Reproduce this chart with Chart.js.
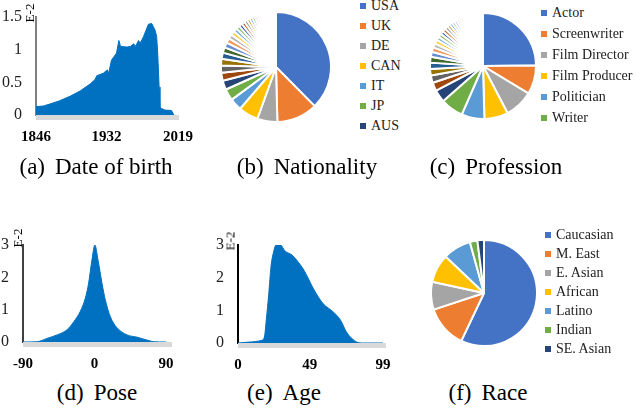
<!DOCTYPE html>
<html>
<head>
<meta charset="utf-8">
<script src="https://cdn.jsdelivr.net/npm/chart.js@4"></script>
<style>
  body { margin: 0; background: #fff; }
  #fig { position: relative; width: 636px; height: 410px; overflow: hidden; font-family: "Liberation Serif", "DejaVu Serif", serif; color: #000; }
  canvas { position: absolute; }
  .cap { position: absolute; font-family: "Liberation Serif", serif; font-size: 23px; white-space: nowrap; line-height: 1; transform: translateX(-50%); }
  .cap b { font-weight: normal; margin-right: 10px; }
  .exp { position: absolute; font-family: "Liberation Serif", serif; font-size: 13px; white-space: nowrap; line-height: 1; transform: translate(-50%, -50%) rotate(-90deg); }
  .leg { position: absolute; font-family: "Liberation Serif", serif; font-size: 14px; white-space: nowrap; height: 16px; display: flex; align-items: center; color: #222; }
  .leg i { display: inline-block; width: 6px; height: 6px; margin-right: 5px; }
</style>
</head>
<body>
<div id="fig">
  <canvas id="birth" width="200" height="150" style="left:0;top:0"></canvas>
  <canvas id="nation" width="112" height="112" style="left:220px;top:11px"></canvas>
  <canvas id="prof" width="108" height="108" style="left:429px;top:12px"></canvas>
  <canvas id="pose" width="200" height="150" style="left:0;top:225px"></canvas>
  <canvas id="age" width="200" height="150" style="left:200px;top:225px"></canvas>
  <canvas id="race" width="108" height="108" style="left:430px;top:239px"></canvas>

  <div class="exp" style="left:29px;top:13px">E-2</div>
  <div class="exp" style="left:17px;top:238px">E-2</div>
  <div class="exp" style="left:230px;top:241px">E-2</div>

  <div class="cap" style="left:96px;top:155px"><b>(a)</b>Date of birth</div>
  <div class="cap" style="left:307px;top:155px"><b>(b)</b>Nationality</div>
  <div class="cap" style="left:496px;top:155px"><b>(c)</b>Profession</div>
  <div class="cap" style="left:97px;top:381px"><b>(d)</b>Pose</div>
  <div class="cap" style="left:284px;top:381px"><b>(e)</b>Age</div>
  <div class="cap" style="left:488px;top:381px"><b>(f)</b>Race</div>
</div>
<script>
// (a) date of birth, share in units of 1e-2
const birthYear = [1846, 1855, 1863, 1875, 1888, 1900, 1912, 1918, 1920, 1928, 1933, 1934.5, 1938, 1944, 1947, 1949, 1957, 1961, 1965, 1967, 1971, 1973, 1977, 1983, 1987, 1991, 1993, 1994.3, 1996, 1997, 1999, 2003, 2011, 2014];
const birthShare = [0.127, 0.138, 0.168, 0.219, 0.29, 0.37, 0.475, 0.545, 0.6, 0.64, 0.69, 0.64, 0.84, 0.945, 1.14, 1.05, 1.04, 1.05, 1.09, 1.05, 1.14, 1.10, 1.2, 1.39, 1.40, 1.30, 1.20, 0.94, 0.43, 0.12, 0.1, 0.075, 0.07, 0];
const birthTicks = [1846, 1932, 2019];

// (d) head pose (degrees)
const poseAngle = [-90, -72, -60, -47, -35, -26, -18, -11.6, -7.4, -3.2, 0.5, 4.4, 9.4, 13.6, 20, 28, 41, 53.5, 66, 74, 90];
const poseShare = [0, 0.01, 0.11, 0.22, 0.37, 0.63, 0.94, 1.35, 1.82, 2.54, 3.0, 2.54, 1.82, 1.3, 0.78, 0.45, 0.22, 0.15, 0.06, 0.01, 0];
const poseTicks = [-90, 0, 90];

// (e) age
const ageYears = [0, 8, 16, 18, 19.3, 21, 22.5, 24.3, 26, 29, 32, 37, 40, 45, 52, 58, 65, 70, 74, 78, 81, 85, 99];
const ageShare = [0, 0.03, 0.08, 0.18, 0.70, 1.51, 2.33, 2.79, 3.0, 3.0, 2.82, 2.69, 2.54, 2.23, 1.62, 1.21, 0.95, 0.70, 0.34, 0.13, 0.03, 0, 0];
const ageTicks = [0, 49, 99];

// (b) nationality, percent
const nationLabels = ['USA', 'UK', 'DE', 'CAN', 'IT', 'JP', 'AUS'];
const nationShare = [37.6, 12, 5.9, 5.8, 3.6, 3.4, 2.7,
  2.3, 2.1, 2.0, 1.8, 1.6, 1.5, 1.4, 1.3, 1.2, 1.1, 1.05, 1.0, 0.95, 0.9, 0.85,
  0.8, 0.75, 0.7, 0.7, 0.65, 0.6, 0.55, 0.5, 0.5, 0.45, 0.4, 0.4, 0.35, 0.3, 0.3];

// (c) profession, percent
const profLabels = ['Actor', 'Screenwriter', 'Film Director', 'Film Producer', 'Politician', 'Writer'];
const profShare = [24.8, 8.8, 8.7, 7.2, 7.0, 6.9,
  3.8, 2.6, 2.2, 2.0, 1.9, 1.8, 1.5, 1.4, 1.25, 1.2, 1.1, 1.1,
  1.0, 1.0, 0.95, 0.9, 0.85, 0.8, 0.8, 0.75, 0.7, 0.7, 0.65, 0.6, 0.6, 0.55,
  0.5, 0.5, 0.45, 0.4, 0.4, 0.35, 0.3, 0.3, 0.3, 0.25];

// (f) race, percent
const raceLabels = ['Caucasian', 'M. East', 'E. Asian', 'African', 'Latino', 'Indian', 'SE. Asian'];
const raceShare = [57.1, 12.9, 8.5, 8.7, 8.6, 2.3, 2.0];

const officePalette = ['#4472C4', '#ED7D31', '#A5A5A5', '#FFC000', '#5B9BD5', '#70AD47',
  '#264478', '#9E480E', '#636363', '#997300', '#255E91', '#43682B',
  '#698ED0', '#F1975A', '#B7B7B7', '#FFCD33', '#7CAFDD', '#8CC168',
  '#335AA1', '#BC5B13', '#7C7C7C', '#BF9000', '#327DC2', '#5A8A39',
  '#8FAADC', '#F4B183', '#C9C9C9', '#FFD966', '#9DC3E6', '#A9D18E',
  '#203864', '#843C0C', '#525252', '#7F6000', '#1F4E79', '#385723',
  '#B4C7E7', '#F8CBAD', '#DBDBDB', '#FFE699', '#BDD7EE', '#C5E0B4'];

Chart.defaults.font.family = "'Liberation Serif', serif";

// grey strip under the x axis, like the Excel category axis
const baseBand = {
  id: 'baseBand',
  beforeDatasetsDraw(chart, args, opts) {
    const a = chart.chartArea;
    const c = chart.ctx;
    c.save();
    c.fillStyle = '#d9d9d9';
    c.fillRect(a.left, a.bottom, a.right - a.left + (opts.extra || 0), 5);
    c.restore();
  }
};

function areaChart(id, xs, ys, o) {
  return new Chart(document.getElementById(id), {
    type: 'line',
    data: {
      datasets: [{
        data: xs.map((x, i) => ({ x: x, y: ys[i] })),
        fill: 'origin',
        backgroundColor: '#0070C0',
        borderColor: '#0070C0',
        borderWidth: 1,
        pointRadius: 0,
        tension: 0,
        cubicInterpolationMode: o.smooth ? 'monotone' : 'default'
      }]
    },
    options: {
      responsive: false,
      animation: false,
      layout: { padding: { top: o.padTop, right: o.padRight, left: 0, bottom: 0 } },
      plugins: { legend: { display: false }, tooltip: { enabled: false }, baseBand: { extra: o.bandExtra } },
      scales: {
        x: {
          type: 'linear', min: o.xTicks[0], max: o.xTicks[o.xTicks.length - 1],
          afterBuildTicks: s => { s.ticks = o.xTicks.map(v => ({ value: v })); },
          afterFit: s => { s.height = o.xHeight; s.paddingLeft = 0; s.paddingRight = 0; },
          grid: { display: false, drawTicks: false },
          border: { display: false },
          ticks: { autoSkip: false, maxRotation: 0, padding: 13, color: '#000',
                   font: { size: 15, weight: 'bold' }, callback: v => String(v) }
        },
        y: {
          min: 0, max: o.yMax,
          afterFit: s => { s.width = o.yWidth; s.paddingTop = 0; s.paddingBottom = 0; },
          grid: { display: false, drawTicks: false },
          border: { color: o.axisColor, width: 2 },
          ticks: { stepSize: o.yStep, padding: 14, color: '#222', font: { size: 16 }, callback: v => String(v) }
        }
      }
    },
    plugins: [baseBand]
  });
}

function pieChart(id, values) {
  return new Chart(document.getElementById(id), {
    type: 'pie',
    data: {
      datasets: [{
        data: values,
        backgroundColor: values.map((v, i) => officePalette[i % officePalette.length]),
        borderColor: '#fff',
        borderWidth: 2
      }]
    },
    options: { responsive: false, animation: false, plugins: { legend: { display: false }, tooltip: { enabled: false } } }
  });
}

function legend(labels, x, y0, dy) {
  const fig = document.getElementById('fig');
  labels.forEach((t, i) => {
    const d = document.createElement('div');
    d.className = 'leg';
    d.style.left = x + 'px';
    d.style.top = (y0 + i * dy - 8) + 'px';
    d.innerHTML = '<i style="background:' + officePalette[i] + '"></i>' + t;
    fig.appendChild(d);
  });
}

areaChart('birth', birthYear, birthShare, { xTicks: birthTicks, yMax: 1.5, yStep: 0.5, yWidth: 36, padTop: 17, padRight: 22, xHeight: 35, bandExtra: 1, axisColor: '#808080' });
areaChart('pose', poseAngle, poseShare, { xTicks: poseTicks, yMax: 3, yStep: 1, yWidth: 23, padTop: 20, padRight: 34, xHeight: 33, bandExtra: 6, axisColor: '#404040', smooth: true });
areaChart('age', ageYears, ageShare, { xTicks: ageTicks, yMax: 3, yStep: 1, yWidth: 38, padTop: 20, padRight: 17, xHeight: 32, bandExtra: 3, axisColor: '#000', smooth: true });

pieChart('nation', nationShare);
pieChart('prof', profShare);
pieChart('race', raceShare);

legend(nationLabels, 360, 6, 20);
legend(profLabels, 541, 12.7, 21.1);
legend(raceLabels, 545, 235, 19.05);
</script>
</body>
</html>
